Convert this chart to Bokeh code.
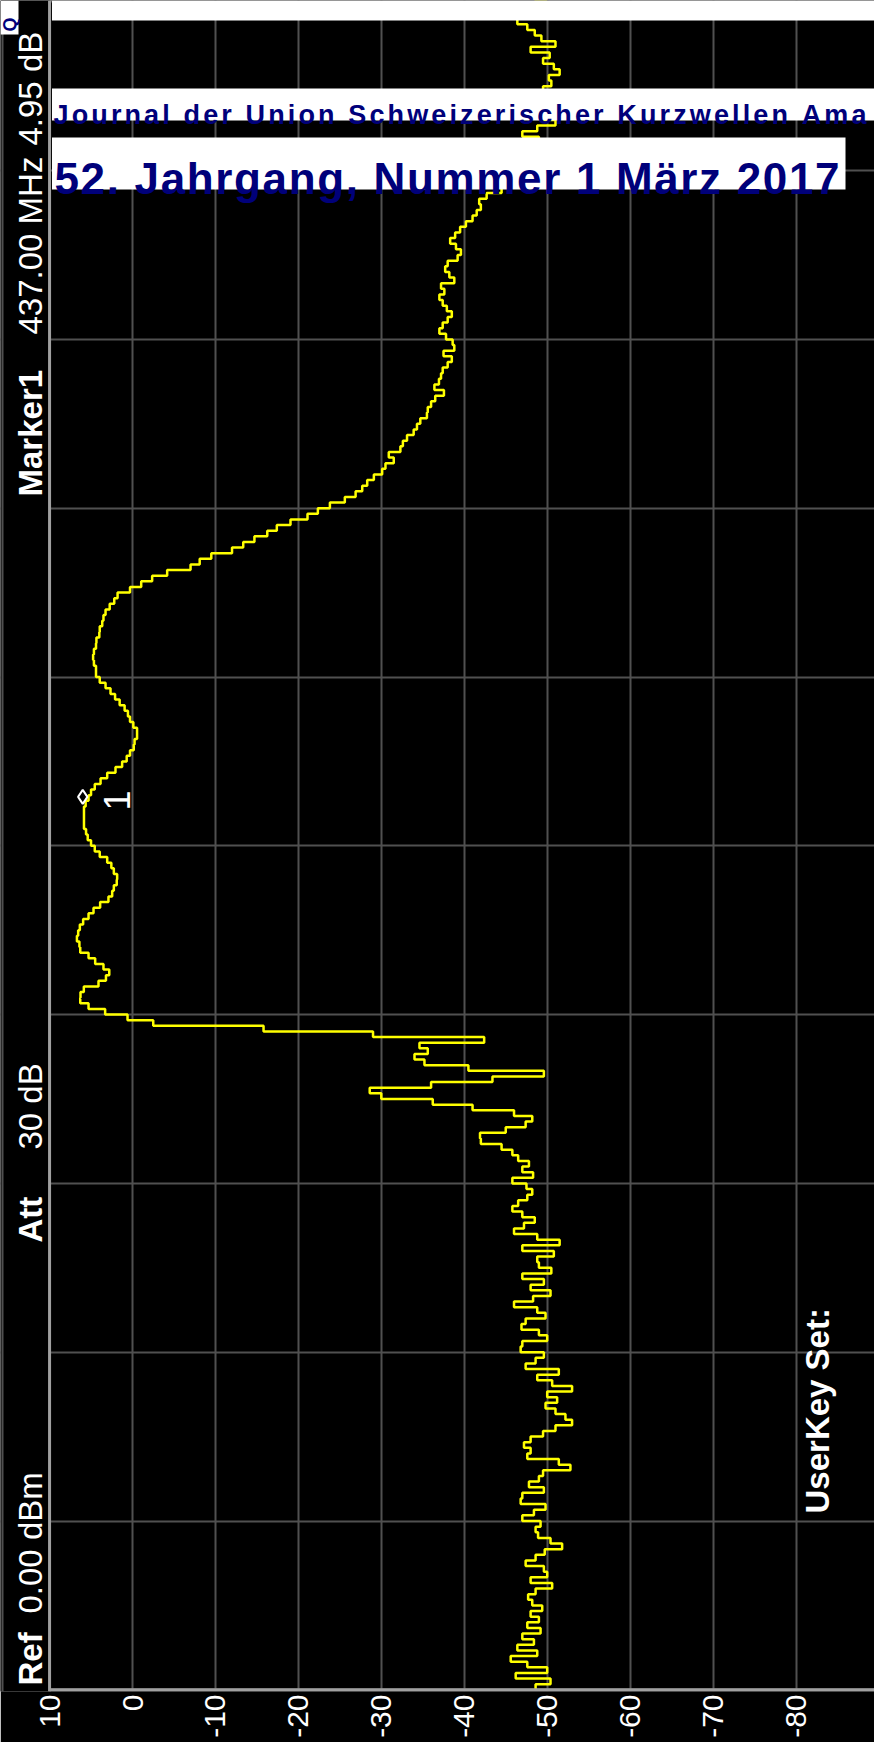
import math
from bokeh.plotting import figure
from bokeh.models import Range1d, FixedTicker, Label, BoxAnnotation, Span
from bokeh.core.properties import value
from bokeh.embed import file_html
from bokeh.resources import INLINE

# ---------------- data ----------------
# x axis: level in dB (reference 0 dBm, 10 dB/div); y axis: sweep position in divisions
db_ticks = [10, 0, -10, -20, -30, -40, -50, -60, -70, -80, -90]
db_tick_labels = ["10", "0", "-10", "-20", "-30", "-40", "-50", "-60", "-70", "-80", "-90"]
div_ticks = [0, 1, 2, 3, 4, 5, 6, 7, 8, 9, 10]

n_points = 301
sweep_div = [i * 10.0 / (n_points - 1) for i in range(n_points)]

level_db = [
    -48.6, -50.4, -46.2, -50.0, -47.6, -45.6, -48.8, -46.4, -48.4, -47.0,
    -49.2, -47.6, -49.0, -48.0, -49.4, -48.2, -47.7, -48.6, -50.6, -48.0,
    -50.0, -49.6, -47.4, -48.6, -49.7, -51.8, -50.4, -48.9, -48.6, -49.2,
    -47.0, -48.4, -49.8, -46.8, -47.0, -49.6, -47.8, -49.0, -49.5, -52.8,
    -51.4, -47.6, -48.0, -47.2, -48.0, -49.5, -51.0, -53.0, -52.2, -51.0,
    -49.8, -51.2, -50.0, -53.0, -50.6, -48.8, -51.4, -47.4, -48.6, -49.6,
    -46.8, -47.0, -50.0, -49.0, -46.9, -47.4, -49.8, -48.8, -46.0, -48.3,
    -50.4, -48.0, -49.6, -47.0, -50.5, -49.0, -48.8, -50.8, -47.0, -51.5,
    -48.8, -46.0, -47.2, -48.5, -47.0, -45.8, -46.5, -47.6, -48.2, -47.5,
    -45.8, -48.3, -47.0, -47.8, -46.5, -45.8, -44.5, -42.0, -41.9, -45.0,
    -47.4, -48.2, -46.0, -41.0, -36.2, -30.0, -28.6, -36.0, -43.4, -49.6,
    -40.5, -35.2, -34.0, -35.6, -34.6, -42.4, -29.0, -15.8, -2.5, 0.6,
    3.3, 5.3, 6.3, 6.27, 5.87, 4.1, 3.2, 2.8, 3.5, 4.5,
    5.3, 6.3, 6.4, 6.7, 6.55, 6.35, 5.95, 5.3, 4.7, 3.9,
    2.9, 2.45, 2.25, 1.9, 1.85, 2.25, 2.55, 3.05, 3.95, 4.55,
    5.0, 5.4, 5.6, 5.85, 5.85, 5.85, 5.85, 5.65, 5.3, 5.0,
    4.55, 3.85, 3.05, 2.05, 1.25, 0.7, 0.3, -0.15, -0.25, -0.55,
    -0.55, -0.1, 0.3, 0.55, 0.95, 1.55, 2.1, 2.65, 3.25, 3.95,
    4.4, 4.4, 4.65, 4.75, 4.65, 4.4, 4.35, 4.0, 3.95, 3.65,
    3.5, 3.25, 2.75, 2.2, 1.8, 0.3, -1.05, -2.37, -4.18, -7.0,
    -8.1, -9.5, -12.0, -13.35, -14.7, -16.25, -17.4, -19.05, -21.1, -22.35,
    -23.8, -25.6, -26.9, -27.7, -28.3, -29.1, -30.1, -30.5, -31.5, -30.9,
    -32.3, -32.6, -33.1, -33.9, -34.3, -34.7, -35.5, -35.6, -36.0, -36.5,
    -37.55, -36.4, -36.95, -37.2, -37.4, -38.0, -38.5, -37.5, -38.8, -38.6,
    -37.8, -37.0, -37.4, -38.0, -38.5, -37.9, -37.4, -37.0, -37.6, -37.2,
    -38.8, -38.2, -37.7, -38.0, -39.2, -39.6, -39.0, -38.3, -38.9, -39.5,
    -40.2, -41.0, -41.5, -42.0, -41.8, -42.7, -44.5, -45.5, -46.5, -47.5,
    -48.0, -48.5, -49.0, -48.5, -49.5, -49.0, -47.0, -48.8, -51.0, -49.5,
    -50.0, -49.0, -50.5, -48.5, -49.5, -50.5, -50.2, -51.5, -50.8, -49.5,
    -50.3, -48.0, -51.0, -49.3, -48.5, -47.6, -46.4, -50.5, -49.0, -48.5,
    -50.0,
]

marker_db = [6.0]
marker_div = [5.29]

# ---------------- layout helpers (page pixel -> data) ----------------
W, H = 874, 1742
FRAME_B = 1691


def xd(px):
    return (132.0 - px) / 8.294


def yd(py):
    return (1689.3 - py) / 168.8


BOLD_W = {
    " ": 278, ",": 278, ".": 278, "0": 556, "1": 556, "2": 556, "5": 556, "7": 556,
    "A": 722, "J": 556, "K": 722, "M": 833, "N": 722, "S": 667, "U": 722,
    "a": 556, "c": 556, "d": 611, "e": 556, "g": 611, "h": 611, "i": 278, "l": 278,
    "m": 889, "n": 611, "o": 611, "r": 389, "s": 556, "u": 611, "w": 778, "z": 500,
    "ä": 556,
}


def spaced(text, x0, x1, size):
    natural = sum(BOLD_W[c] for c in text) * size / 1000.0
    ls = (x1 - x0 - natural) / (len(text) - 1)
    xs, pos = [], x0
    for c in text:
        xs.append(pos)
        pos += BOLD_W[c] * size / 1000.0 + ls
    return xs


p = figure(
    width=W, height=H,
    output_backend="svg", toolbar_location=None,
    x_range=Range1d(xd(0), xd(W)),
    y_range=Range1d(yd(FRAME_B), yd(0)),
    min_border_left=0, min_border_right=0, min_border_top=0, min_border_bottom=H - FRAME_B,
    background_fill_color="black", border_fill_color="black",
    outline_line_color=None,
)

# axes
p.xaxis.ticker = FixedTicker(ticks=db_ticks)
p.xaxis.major_label_overrides = {t: s for t, s in zip(db_ticks, db_tick_labels)}
p.xaxis.major_label_orientation = math.pi / 2
p.xaxis.major_label_text_color = "white"
p.xaxis.major_label_text_font = "Liberation Sans"
p.xaxis.major_label_text_font_size = "30px"
p.xaxis.major_label_standoff = 3
p.xaxis.major_tick_in = 0
p.xaxis.major_tick_out = 0
p.xaxis.minor_tick_line_color = None
p.xaxis.axis_line_color = None
p.yaxis.visible = False

p.xgrid.grid_line_color = "#505050"
p.xgrid.grid_line_width = 2
p.ygrid.ticker = FixedTicker(ticks=div_ticks)
p.ygrid.grid_line_color = "#505050"
p.ygrid.grid_line_width = 2

# trace
p.step(x=level_db, y=sweep_div, mode="before", line_color="#ffff00", line_width=2.5)

# marker
p.scatter(x=marker_db, y=marker_div, marker="diamond", size=14,
          fill_color=None, line_color="white", line_width=2)

# axis lines, status strip background
p.add_layout(Span(location=0, dimension="width", line_color="#a0a0a0", line_width=3))
p.add_layout(BoxAnnotation(right=db_ticks[0], fill_color="black", fill_alpha=1, line_color=None))
p.add_layout(Span(location=db_ticks[0], dimension="height", line_color="#a0a0a0", line_width=3))
p.add_layout(Span(location=xd(2), dimension="height", line_color="#505050", line_width=2))


def vlabel(text, px, py, style="normal", size="33px", align="left", color="white"):
    p.add_layout(Label(x=xd(px), y=yd(py), text=text, angle=math.pi / 2,
                       text_font="Liberation Sans", text_font_style=style,
                       text_font_size=size, text_color=color,
                       text_align=align, text_baseline="middle"))


# marker number
vlabel("1", 116, 800, size="36px", align="center")

# left status strip (rotated)
vlabel("Ref", 30, 1685, "bold")
vlabel("0.00 dBm", 30, 1613)
vlabel("Att", 30, 1242, "bold")
vlabel("30 dB", 30, 1149)
vlabel("Marker1", 30, 496, "bold")
vlabel("437.00 MHz", 30, 334)
vlabel("4.95 dB", 30, 145)

vlabel("UserKey Set:", 817, 1513, "bold")

# white bands of the magazine overlay
p.add_layout(BoxAnnotation(left=xd(51.5), bottom=yd(20), fill_color="white",
                           fill_alpha=1, line_color=None))
p.add_layout(BoxAnnotation(right=xd(18), bottom=yd(34), fill_color="white",
                           fill_alpha=1, line_color=None))
vlabel("Q", 9, 31, "bold", size="18px", color="#00007a")
p.add_layout(BoxAnnotation(left=xd(51.5), bottom=yd(120), top=yd(88), fill_color="white",
                           fill_alpha=1, line_color=None))
p.add_layout(BoxAnnotation(left=xd(51.5), right=xd(845), bottom=yd(189), top=yd(137),
                           fill_color="white", fill_alpha=1, line_color=None))

line1 = "Journal der Union Schweizerischer Kurzwellen Ama"
line2 = "52. Jahrgang, Nummer 1 März 2017"
xs1 = spaced(line1, 53, 866, 27)
xs2 = spaced(line2, 54, 839, 44)

p.text(x=[xd(v) for v in xs1], y=[yd(114)] * len(line1), text=list(line1),
       text_font=value("Liberation Sans"), text_font_style="bold", text_font_size="27px",
       text_color="#00007a", text_align="left", text_baseline="alphabetic", level="overlay")
p.text(x=[xd(v) for v in xs2], y=[yd(178)] * len(line2), text=list(line2),
       text_font=value("Liberation Sans"), text_font_style="bold", text_font_size="44px",
       text_color="#00007a", text_align="left", text_baseline="alphabetic", level="overlay")

open("out.html", "w").write(file_html(p, INLINE))
